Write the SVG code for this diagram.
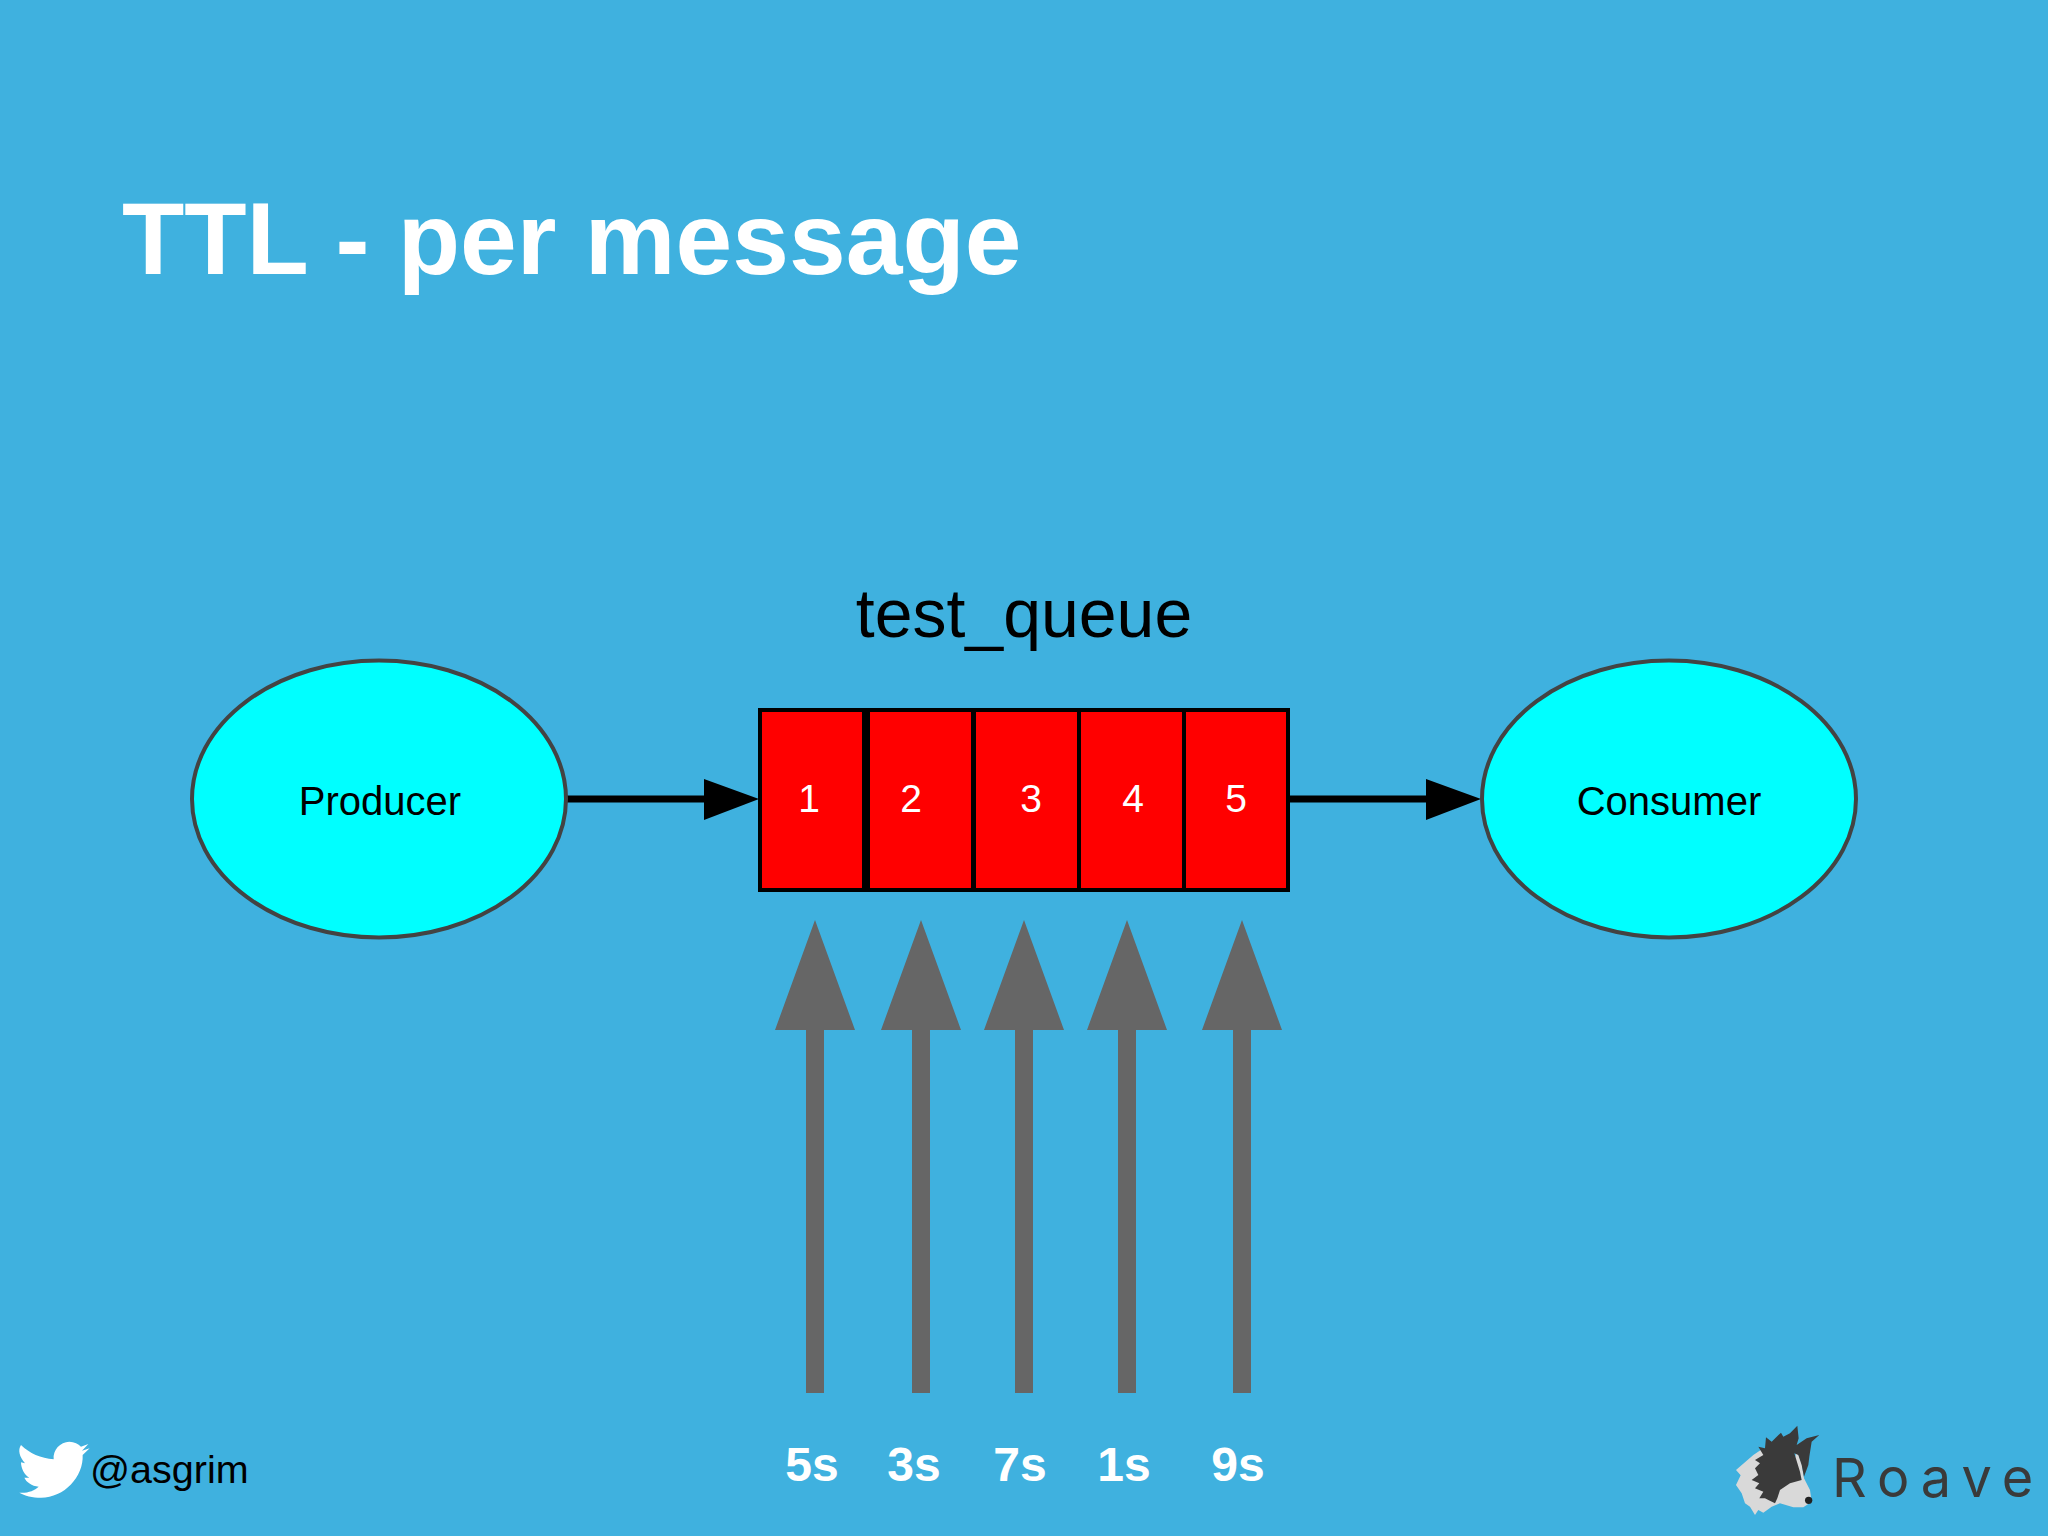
<svg xmlns="http://www.w3.org/2000/svg" width="2048" height="1536" viewBox="0 0 2048 1536">
<style>
text{font-family:"Liberation Sans",Arial,sans-serif}
.el{fill:#00ffff;stroke:#434343;stroke-width:4}
.nl{font-size:40px;fill:#000;text-anchor:middle}
.cell{fill:#ff0000;stroke:#000;stroke-width:4}
.num{font-size:39px;fill:#fff;text-anchor:middle}
.ttl{font-size:48px;font-weight:bold;fill:#fff;text-anchor:middle}
.gr{fill:#666666}
.brand{font-family:Inter,"Open Sans",sans-serif;font-size:54px;fill:#3a3a3a;letter-spacing:11px}
</style>
<rect width="2048" height="1536" fill="#3fb1df"/>
<text x="122" y="274" font-size="102" font-weight="bold" fill="#fff">TTL - per message</text>
<text id="queue-label" x="1024" y="637" font-size="68" fill="#000" text-anchor="middle">test_queue</text>
<g id="connectors">
<path d="M567 799H706" stroke="#000" stroke-width="7" fill="none"/><path d="M704 779L759 799L704 820Z" fill="#000"/>
<path d="M1288 799H1428" stroke="#000" stroke-width="7" fill="none"/><path d="M1426 779L1481 799L1426 820Z" fill="#000"/>
<path class="gr" d="M815 920L855 1030H824V1393H806V1030H775Z"/>
<path class="gr" d="M921 920L961 1030H930V1393H912V1030H881Z"/>
<path class="gr" d="M1024 920L1064 1030H1033V1393H1015V1030H984Z"/>
<path class="gr" d="M1127 920L1167 1030H1136V1393H1118V1030H1087Z"/>
<path class="gr" d="M1242 920L1282 1030H1251V1393H1233V1030H1202Z"/>
</g>
<g id="producer"><ellipse class="el" cx="379" cy="799" rx="187" ry="138.500"/><text class="nl" x="380" y="815">Producer</text></g>
<g id="consumer"><ellipse class="el" cx="1669" cy="799" rx="187" ry="138.500"/><text class="nl" x="1669" y="815">Consumer</text></g>
<g id="queue">
<rect class="cell" x="760" y="710" width="104" height="180"/>
<rect class="cell" x="868" y="710" width="105" height="180"/>
<rect class="cell" x="974" y="710" width="105" height="180"/>
<rect class="cell" x="1079" y="710" width="105" height="180"/>
<rect class="cell" x="1184" y="710" width="104" height="180"/>
<text class="num" x="809" y="812">1</text>
<text class="num" x="911" y="812">2</text>
<text class="num" x="1031" y="812">3</text>
<text class="num" x="1133" y="812">4</text>
<text class="num" x="1236" y="812">5</text>
</g>
<g id="ttl-labels">
<text class="ttl" x="812" y="1481">5s</text>
<text class="ttl" x="914" y="1481">3s</text>
<text class="ttl" x="1020" y="1481">7s</text>
<text class="ttl" x="1124" y="1481">1s</text>
<text class="ttl" x="1238" y="1481">9s</text>
</g>
<g id="twitter" transform="translate(1 1400) scale(.3333)">
<path fill="#fff" d="M60 135C85 160 120 175 158 178C155 150 178 125 205 125C220 125 232 132 240 140L262 132L243 152L266 145L245 165C248 230 190 293 120 293C95 293 70 287 55 278C80 280 100 272 113 260C92 258 76 246 70 233L85 233C70 225 60 205 60 187L72 190C55 170 50 150 60 135Z"/>
</g>
<text id="handle" x="90" y="1483" font-size="39.500" fill="#000">@asgrim</text>
<g id="roave">
<g transform="translate(1700 1400) scale(.3333)">
<path fill="#d9d9d9" d="M190 145L160 165L108 210L122 226L108 255L125 280L135 310L150 320L165 345L175 330L190 338L215 320L240 310L280 322L310 322L335 305L330 270L312 235L305 190L290 150L270 250Z"/>
<path fill="#3a3a3a" d="M292 77L296 115L290 135L320 115L358 105L335 125L328 170L325 195L312 230L305 195L295 165L283 160L300 215L305 240L270 250L240 270L232 295L225 310L205 300L195 295L178 295L190 275L165 265L178 250L155 240L175 225L165 205L180 190L165 180L190 165L175 140L195 145L198 112L215 125L243 98L250 110L270 100Z"/>
<ellipse cx="326" cy="301" rx="11" ry="11" fill="#222"/>
</g>
<text class="brand" x="1832" y="1497">Roave</text>
</g>
</svg>
